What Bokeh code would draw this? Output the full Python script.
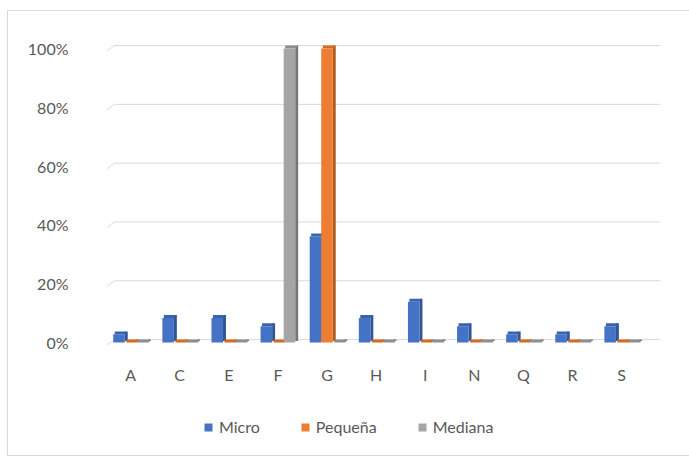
import numpy as np
from bokeh.plotting import figure
from bokeh.models import Range1d, FixedTicker, Legend, LegendItem, ColumnDataSource
from bokeh.core.properties import value
from bokeh.embed import file_html
from bokeh.resources import INLINE

categories = ["A", "C", "E", "F", "G", "H", "I", "N", "Q", "R", "S"]
micro = [2.78, 8.33, 8.33, 5.56, 36.11, 8.33, 13.89, 5.56, 2.78, 2.78, 5.56]
pequena = [0, 0, 0, 0, 100, 0, 0, 0, 0, 0, 0]
mediana = [0, 0, 0, 100, 0, 0, 0, 0, 0, 0, 0]
series_names = ["Micro", "Pequeña", "Mediana"]
y_ticks = [0, 20, 40, 60, 80, 100]

front_colors = ["#4472C4", "#ED7D31", "#A5A5A5"]
side_colors = ["#2F5597", "#B05A1F", "#767676"]
top_colors = ["#3A63AE", "#D36B25", "#8E8E8E"]

FONT = "Lato"
TEXT = "#595959"

p = figure(width=681, height=444, output_backend="svg", toolbar_location=None,
           x_range=Range1d(-0.49, 10.79), y_range=Range1d(-36.73, 106.12),
           min_border_left=98, min_border_right=29, min_border_top=19,
           min_border_bottom=5)
p.margin = (11, 0, 0, 8)
p.styles = {"outline": "1px solid #D9D9D9"}
p.outline_line_color = None
p.border_fill_color = "white"
p.xgrid.visible = False
p.ygrid.visible = False
p.xaxis.visible = False

x = np.arange(len(categories))
w = 0.235
step = 0.235
dx = 0.06
dy = 1.0

# back-wall gridlines with small floor slant
ticks = np.array(y_ticks, dtype=float)
p.segment(x0=[-0.33] * len(ticks), y0=ticks + dy, x1=[10.79] * len(ticks), y1=ticks + dy,
          line_color="#D9D9D9", line_width=1)
p.segment(x0=[-0.49] * len(ticks), y0=ticks - dy, x1=[-0.33] * len(ticks), y1=ticks + dy,
          line_color="#D9D9D9", line_width=1)

legend_items = []
for i, (name, vals) in enumerate(zip(series_names, [micro, pequena, mediana])):
    xc = x + (i - 1) * step
    v = np.array(vals, dtype=float)
    src = ColumnDataSource(dict(x=xc, top=v, bottom=np.zeros_like(v),
                                xs=xc + w / 2 + dx / 2, ts=v + dy, bs=np.full_like(v, dy * 0.5),
                                xt=xc + dx / 2, tt=v + dy, bt=v))
    p.vbar(x="xs", width=dx, top="ts", bottom="bs", source=src,
           fill_color=side_colors[i], line_color=None)
    p.vbar(x="xt", width=w, top="tt", bottom="bt", source=src,
           fill_color=top_colors[i], line_color=None)
    r = p.vbar(x="x", width=w, top="top", bottom="bottom", source=src,
               fill_color=front_colors[i], line_color=None)
    legend_items.append(LegendItem(label=name, renderers=[r]))

# category labels under the floor
p.text(x=x, y=[-10.9] * len(categories), text=categories, text_align="center",
       text_baseline="middle", text_font=value(FONT), text_font_size="16px",
       text_color=TEXT)

p.yaxis.ticker = FixedTicker(ticks=y_ticks)
p.yaxis.major_label_overrides = {t: f"{t}%" for t in y_ticks}
ax = p.yaxis[0]
ax.axis_line_color = None
ax.major_tick_line_color = None
ax.minor_tick_line_color = None
ax.major_label_text_font = FONT
ax.major_label_text_font_size = "16px"
ax.major_label_text_color = TEXT
ax.major_label_standoff = 32

legend = Legend(items=legend_items, orientation="horizontal", location=(97, 14),
                label_text_font=FONT, label_text_font_size="16px", label_text_color=TEXT,
                glyph_width=10, glyph_height=10, label_standoff=6, spacing=40,
                padding=0, margin=0, border_line_color=None, background_fill_alpha=0)
p.add_layout(legend, "center")

open("out.html", "w").write(file_html(p, INLINE))
